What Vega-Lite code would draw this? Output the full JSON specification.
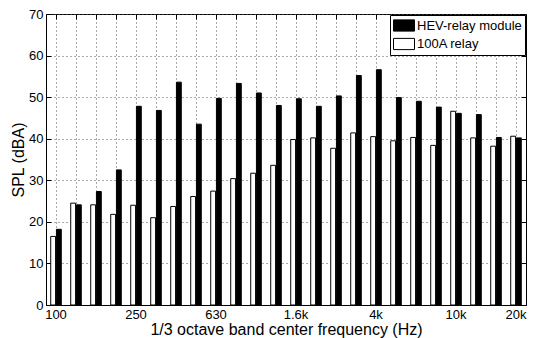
{
  "$schema": "https://vega.github.io/schema/vega-lite/v6.json",
  "width": 480,
  "height": 291,
  "autosize": "none",
  "padding": {"left": 46, "top": 14, "right": 12, "bottom": 33},
  "background": "white",
  "config": {
    "font": "Liberation Sans",
    "view": {"stroke": "black", "strokeWidth": 1},
    "axis": {"domainColor": "black", "tickColor": "black", "labelColor": "black", "titleColor": "black", "labelFont": "Liberation Sans", "titleFont": "Liberation Sans", "titleFontWeight": "normal"},
    "legend": {"labelFont": "Liberation Sans"}
  },
  "data": {"values": [
    {"band": "100", "relay": "100A relay", "spl": 16.5}, {"band": "100", "relay": "HEV-relay module", "spl": 18.2},
    {"band": "125", "relay": "100A relay", "spl": 24.5}, {"band": "125", "relay": "HEV-relay module", "spl": 24.1},
    {"band": "160", "relay": "100A relay", "spl": 24.1}, {"band": "160", "relay": "HEV-relay module", "spl": 27.3},
    {"band": "200", "relay": "100A relay", "spl": 21.8}, {"band": "200", "relay": "HEV-relay module", "spl": 32.5},
    {"band": "250", "relay": "100A relay", "spl": 24.0}, {"band": "250", "relay": "HEV-relay module", "spl": 47.8},
    {"band": "315", "relay": "100A relay", "spl": 21.0}, {"band": "315", "relay": "HEV-relay module", "spl": 46.8},
    {"band": "400", "relay": "100A relay", "spl": 23.7}, {"band": "400", "relay": "HEV-relay module", "spl": 53.6},
    {"band": "500", "relay": "100A relay", "spl": 26.1}, {"band": "500", "relay": "HEV-relay module", "spl": 43.5},
    {"band": "630", "relay": "100A relay", "spl": 27.4}, {"band": "630", "relay": "HEV-relay module", "spl": 49.7},
    {"band": "800", "relay": "100A relay", "spl": 30.4}, {"band": "800", "relay": "HEV-relay module", "spl": 53.3},
    {"band": "1k", "relay": "100A relay", "spl": 31.7}, {"band": "1k", "relay": "HEV-relay module", "spl": 51.0},
    {"band": "1.25k", "relay": "100A relay", "spl": 33.6}, {"band": "1.25k", "relay": "HEV-relay module", "spl": 48.0},
    {"band": "1.6k", "relay": "100A relay", "spl": 39.8}, {"band": "1.6k", "relay": "HEV-relay module", "spl": 49.6},
    {"band": "2k", "relay": "100A relay", "spl": 40.2}, {"band": "2k", "relay": "HEV-relay module", "spl": 47.8},
    {"band": "2.5k", "relay": "100A relay", "spl": 37.7}, {"band": "2.5k", "relay": "HEV-relay module", "spl": 50.3},
    {"band": "3.15k", "relay": "100A relay", "spl": 41.4}, {"band": "3.15k", "relay": "HEV-relay module", "spl": 55.2},
    {"band": "4k", "relay": "100A relay", "spl": 40.5}, {"band": "4k", "relay": "HEV-relay module", "spl": 56.6},
    {"band": "5k", "relay": "100A relay", "spl": 39.5}, {"band": "5k", "relay": "HEV-relay module", "spl": 49.9},
    {"band": "6.3k", "relay": "100A relay", "spl": 40.3}, {"band": "6.3k", "relay": "HEV-relay module", "spl": 49.0},
    {"band": "8k", "relay": "100A relay", "spl": 38.4}, {"band": "8k", "relay": "HEV-relay module", "spl": 47.6},
    {"band": "10k", "relay": "100A relay", "spl": 46.6}, {"band": "10k", "relay": "HEV-relay module", "spl": 46.1},
    {"band": "12.5k", "relay": "100A relay", "spl": 40.2}, {"band": "12.5k", "relay": "HEV-relay module", "spl": 45.8},
    {"band": "16k", "relay": "100A relay", "spl": 38.2}, {"band": "16k", "relay": "HEV-relay module", "spl": 40.3},
    {"band": "20k", "relay": "100A relay", "spl": 40.6}, {"band": "20k", "relay": "HEV-relay module", "spl": 40.2}
  ]},
  "layer": [
    {
      "mark": {"type": "bar", "stroke": "black", "strokeWidth": 1},
      "encoding": {
        "x": {
          "field": "band", "type": "nominal", "sort": null,
          "scale": {"paddingInner": 0.43, "paddingOuter": 0.215},
          "axis": {
            "orient": "bottom", "bandPosition": 0.5, "labelAngle": 0,
            "labelExpr": "indexof(['100','250','630','1.6k','4k','10k','20k'], datum.value) >= 0 ? datum.value : ''",
            "labelFontSize": 13, "labelPadding": 8, "tickSize": -5,
            "grid": true, "gridDash": [1, 3], "gridColor": "#555", "gridOpacity": 1,
            "title": "1/3 octave band center frequency (Hz)", "titleFontSize": 16, "titlePadding": 0
          }
        },
        "xOffset": {
          "field": "relay", "type": "nominal",
          "scale": {"domain": ["100A relay", "HEV-relay module"], "paddingInner": 0.15, "paddingOuter": 0.075}
        },
        "y": {
          "field": "spl", "type": "quantitative",
          "scale": {"domain": [0, 70], "nice": false},
          "axis": {
            "orient": "left", "values": [0, 10, 20, 30, 40, 50, 60, 70],
            "labelFontSize": 13, "labelPadding": 8, "tickSize": -5,
            "grid": true, "gridDash": [1, 3], "gridColor": "#555", "gridOpacity": 1,
            "title": "SPL (dBA)", "titleFontSize": 16, "titlePadding": 2
          }
        },
        "fill": {
          "field": "relay", "type": "nominal",
          "scale": {"domain": ["HEV-relay module", "100A relay"], "range": ["#000000", "#ffffff"]},
          "legend": {
            "title": null, "orient": "top-right", "offset": 1,
            "strokeColor": "black", "fillColor": "white", "padding": 3,
            "symbolType": "M-1,-0.8H2V0.8H-1Z", "symbolSize": 196,
            "symbolStrokeColor": "black", "symbolStrokeWidth": 1,
            "labelFontSize": 13, "labelOffset": 9, "labelColor": "black", "rowPadding": 1.5
          }
        }
      }
    },
    {
      "mark": {"type": "bar", "opacity": 0},
      "encoding": {
        "x": {
          "field": "band", "type": "nominal", "sort": null,
          "axis": {"orient": "top", "bandPosition": 0.5, "labels": false, "grid": false, "domain": false, "tickSize": -5, "title": null}
        },
        "y": {
          "field": "spl", "type": "quantitative",
          "axis": {"orient": "right", "values": [0, 10, 20, 30, 40, 50, 60, 70], "labels": false, "grid": false, "domain": false, "tickSize": -5, "title": null}
        }
      }
    }
  ],
  "resolve": {"axis": {"x": "independent", "y": "independent"}}
}
